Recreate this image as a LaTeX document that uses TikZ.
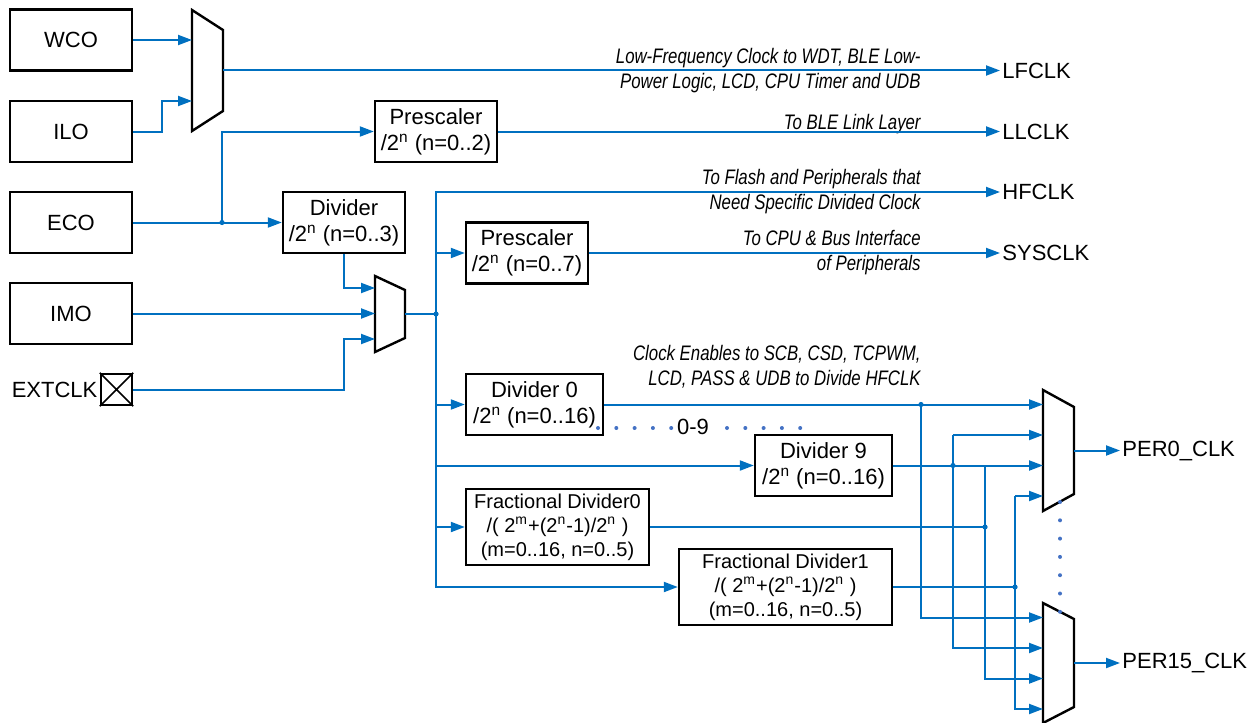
\documentclass[tikz,border=0pt]{standalone}
\usepackage{fontspec}
\setmainfont{Liberation Sans}
\newfontfamily\narrowfont{Liberation Sans}[FakeStretch=0.8]
\usetikzlibrary{arrows.meta}
\definecolor{wireblue}{RGB}{0,112,192}
\definecolor{dotblue}{RGB}{68,114,196}

\begin{document}
\begin{tikzpicture}[x=0.5pt, y=-0.5pt,
		font=\fontsize{11}{13}\selectfont,
		block/.style={draw, line width=1.2pt, align=center, inner sep=0pt, minimum width=61pt, minimum height=30.5pt},
		fracblock/.style={block, font=\fontsize{10}{12}\selectfont, minimum height=38pt},
		muxbox/.style={inner sep=0pt, outer sep=0pt, minimum width=15.5pt},
		muxline/.style={draw, line width=1.2pt, line join=miter},
		wire/.style={wireblue, line width=1pt},
		feed/.style={wire, -{Triangle[length=7pt, width=5pt]}},
		jdot/.style={circle, fill=wireblue, inner sep=0pt, minimum size=2.6pt},
		note/.style={font=\narrowfont\itshape\fontsize{10.5}{12.5}\selectfont, align=right, inner sep=0pt},
		outlbl/.style={anchor=west, inner sep=1pt}
		]
		
		\useasboundingbox (0,0) rectangle (1256,722);
		
		% clock sources
		\node[block] (wco) at (71,40) {WCO};
		\node[block] (ilo) at (71,131.5) {ILO};
		\node[block] (eco) at (71,222.5) {ECO};
		\node[block] (imo) at (71,313.5) {IMO};
		\node[draw, line width=1.2pt, minimum size=15.5pt, inner sep=0pt] (xpin) at (116.5,389.5) {};
		\draw[line width=0.8pt] (xpin.north west) -- (xpin.south east) (xpin.north east) -- (xpin.south west);
		\node[anchor=east, inner sep=1pt] (extlbl) at (xpin.west) {EXTCLK};
		
		% multiplexers
		\node[muxbox, minimum height=60.5pt] (mux1) at (207.5,70.5) {};
		\node[muxbox, minimum width=15pt, minimum height=38pt] (mux2) at (390,314) {};
		\node[muxbox, minimum height=60.5pt] (mux3) at (1058.5,450.5) {};
		\node[muxbox, minimum height=60pt] (mux4) at (1058.5,663) {};
		\foreach \m/\s in {mux1/10pt, mux2/7pt, mux3/8.5pt, mux4/8pt}
		\draw[muxline] (\m.north west) -- ([yshift=-\s]\m.north east) -- ([yshift=\s]\m.south east) -- (\m.south west) -- cycle;
		
		% dividers
		\node[block] (pre1) at (436,131.5) {Prescaler\\/2\textsuperscript{n} (n=0..2)};
		\node[block] (div) at (344,222.5) {Divider\\/2\textsuperscript{n} (n=0..3)};
		\node[block] (pre2) at (527,253) {Prescaler\\/2\textsuperscript{n} (n=0..7)};
		\node[block, minimum width=68.5pt] (div0) at (534.5,404.5) {Divider 0\\/2\textsuperscript{n} (n=0..16)};
		\node[block, minimum width=68.5pt] (div9) at (823.5,465.5) {Divider 9\\/2\textsuperscript{n} (n=0..16)};
		\node[fracblock, minimum width=91.5pt] (frac0) at (557.5,527) {Fractional Divider0\\/( 2\textsuperscript{m}+(2\textsuperscript{n}-1)/2\textsuperscript{n} )\\(m=0..16, n=0..5)};
		\node[fracblock, minimum width=106.5pt] (frac1) at (785.5,587) {Fractional Divider1\\/( 2\textsuperscript{m}+(2\textsuperscript{n}-1)/2\textsuperscript{n} )\\(m=0..16, n=0..5)};
		
		% outputs
		\node[outlbl] (lfclk) at (1000,70.5) {LFCLK};
		\node[outlbl] (llclk) at (1000,131.5) {LLCLK};
		\node[outlbl] (hfclk) at (1000,192) {HFCLK};
		\node[outlbl] (sysclk) at (1000,253) {SYSCLK};
		\node[outlbl] (per0) at (1120,450.5) {PER0\_CLK};
		\node[outlbl] (per15) at (1120,663) {PER15\_CLK};
		
		\node[note, anchor=east] (lfnote) at (921,70.5) {Low-Frequency Clock to WDT, BLE Low-\\Power Logic, LCD, CPU Timer and UDB};
		\node[note, anchor=base east] (llnote) at (921,129) {To BLE Link Layer};
		\node[note, anchor=east] (hfnote) at (921,192) {To Flash and Peripherals that\\Need Specific Divided Clock};
		\node[note, anchor=east] (sysnote) at (921,253) {To CPU \& Bus Interface\\of Peripherals};
		\node[note, anchor=east] (pernote) at (921,366.5) {Clock Enables to SCB, CSD, TCPWM,\\LCD, PASS \& UDB to Divide HFCLK};
		
		% source side wiring
		\draw[feed] (wco.east) -- (wco.east -| mux1.west);
		\draw[feed] (ilo.east) -- (162,131.5) |- (mux1.west |- 0,101);
		\draw[feed] (mux1.east) -- (lfclk.west);
		\node[jdot] (ejn) at (222,222.5) {};
		\draw[feed] (eco.east) -- (div.west);
		\draw[feed] (ejn.center) |- (pre1.west);
		\draw[feed] (pre1.east) -- (llclk.west);
		\draw[feed] (div.south) |- (mux2.west |- 0,288);
		\draw[feed] (imo.east) -- (imo.east -| mux2.west);
		\draw[feed] (xpin.east) -- (344,389.5) |- (mux2.west |- 0,339);
		
		% HFCLK bus
		\node[jdot] (hub) at (436,314) {};
		\draw[wire] (mux2.east) -- (hub.center);
		\foreach \t in {hfclk, pre2, div0, div9, frac0, frac1}
		\draw[feed] (hub.center) |- (\t.west);
		\draw[feed] (pre2.east) -- (sysclk.west);
		
		% peripheral clock muxes
		\coordinate (a1) at (mux3.west |- div0.east);
		\coordinate (a2) at (mux3.west |- 0,435);
		\coordinate (a3) at (mux3.west |- div9.east);
		\coordinate (a4) at (mux3.west |- 0,496);
		\coordinate (b1) at (mux4.west |- 0,617.5);
		\coordinate (b2) at (mux4.west |- 0,648);
		\coordinate (b3) at (mux4.west |- 0,678.5);
		\coordinate (b4) at (mux4.west |- 0,709);
		\coordinate (v2) at (953,435);
		\coordinate (v3) at (985,465.5);
		\coordinate (v4) at (1015,496);
		
		\draw[feed] (div0.east) -- (a1);
		\node[jdot] (t1) at (921,404.5) {};
		\draw[feed] (t1.center) |- (b1);
		\draw[feed] (v2) -- (a2);
		\draw[feed] (v2) |- (b2);
		\draw[feed] (div9.east) -- (a3);
		\node[jdot] (t2) at (953,465.5) {};
		\draw[feed] (v3) |- (b3);
		\node[jdot] (t3) at (frac0.east -| v3) {};
		\draw[wire] (frac0.east) -- (t3.center);
		\draw[feed] (v4) -- (a4);
		\draw[feed] (v4) |- (b4);
		\node[jdot] (t4) at (frac1.east -| v4) {};
		\draw[wire] (frac1.east) -- (t4.center);
		
		\draw[feed] (mux3.east) -- (per0.west);
		\draw[feed] (mux4.east) -- (per15.west);
		
		% dotted gaps
		\node (range) at (693,427) {0-9};
		\foreach \i in {0,...,4} {
			\fill[dotblue] (598+18.3*\i,428) circle (1pt);
			\fill[dotblue] (727+18.3*\i,428) circle (1pt);
		}
		\foreach \i in {0,...,6}
		\fill[dotblue] (1060,502+18.3*\i) circle (1pt);
		
	\end{tikzpicture}
\end{document}
